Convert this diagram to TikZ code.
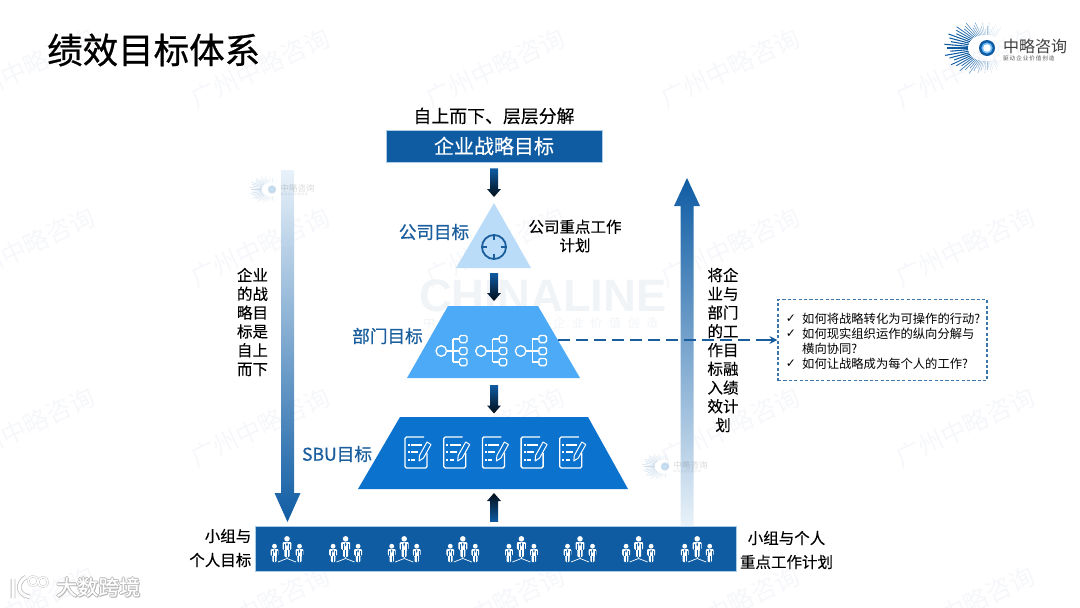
\documentclass[tikz,border=0pt]{standalone}
\usepackage{fontspec}
\setmainfont{Noto Sans CJK SC}[FakeBold=0.22]
\newfontfamily\headfont{Noto Sans CJK SC}[FakeBold=0.7]
\newfontfamily\plainfont{Noto Sans CJK SC}
\newfontfamily\symfont{DejaVu Sans}
\newfontfamily\latfont{Liberation Sans}
\usetikzlibrary{arrows.meta,calc}
\definecolor{boxblue}{HTML}{0F5CA3}
\definecolor{labelblue}{HTML}{1B5E9E}
\definecolor{sbublue}{HTML}{0B72CE}
\definecolor{deptblue}{HTML}{4CAAF6}
\definecolor{apexblue}{HTML}{BBDCF8}
\definecolor{edgeblue}{HTML}{A9CCE8}
\definecolor{markpale}{HTML}{F6F7FA}
\definecolor{linepale}{HTML}{F1F4F7}
\definecolor{fadeblue}{HTML}{E9F2FA}
\newcommand{\fs}[2]{\fontsize{#1}{#2}\selectfont}
\newcommand{\raylw}{1}
% vertical block arrow between two named points: from, to, half shaft, half head, signed head length, shade options
\newcommand{\blockarrow}[6]{%
  \path[#6] let \p1=(#1),\p2=(#2) in
    (\x1-#3pt,\y1) -- (\x1-#3pt,\y2+#5pt) -- (\x1-#4pt,\y2+#5pt) -- (\x2,\y2)
    -- (\x1+#4pt,\y2+#5pt) -- (\x1+#3pt,\y2+#5pt) -- (\x1+#3pt,\y1) -- cycle;}
\tikzset{
  x=1pt,y=-1pt,
  txt/.style={inner sep=0pt,align=center,text=black},
  goal/.style={inner sep=0pt,text=labelblue,font=\headfont\fs{17.6}{20}},
  wm/.style={text=markpale,rotate=25,inner sep=0pt,font=\plainfont\fs{25}{28}},
  smallarrow/.style={shade,top color=boxblue,bottom color=black!85!boxblue},
  uparrow/.style={shade,top color=black!85!boxblue,bottom color=boxblue},
  whiteline/.style={draw=white,line width=1.3pt,fill=none},
  person/.pic={
    \fill[white] (0,-15.8) circle (2.4);
    \fill[white,rounded corners=1pt] (-3.9,-13) -- (3.9,-13) -- (3.9,-6.5) -- (2.2,-6.5) -- (2.2,0) -- (-2.2,0) -- (-2.2,-6.5) -- (-3.9,-6.5) -- cycle;
    \draw[boxblue,line width=.35pt] (-2.3,-11) -- (-2.3,-6.5) (2.3,-11) -- (2.3,-6.5) (0,-6) -- (0,0);
    \fill[boxblue] (0,-12.8) -- (.7,-11) -- (0,-9) -- (-.7,-11) -- cycle;
  },
  peoplegroup/.pic={
    \pic[scale=1.15] at (0,-5) {person};
    \pic at (-12.5,0) {person};
    \pic at (12.5,0) {person};
    \draw[white,line width=.7pt] (-9,0) -- (0,-3.5) -- (9,0) (0,-5) -- (0,-3.5);
  },
  treeicon/.pic={
    \draw[whiteline] (-.7,0) circle (5.3);
    \draw[whiteline] (4.6,0) -- (11,0) (11,-12) -- (11,11) (11,-12) -- (17.5,-12) (11,0) -- (17.5,0) (11,11) -- (17.5,11);
    \foreach \yy in {-12,0,11} \draw[whiteline,rounded corners=1.6pt] (17.5,\yy-3.6) rectangle (25,\yy+3.6);
  },
  docicon/.pic={
    \draw[whiteline,rounded corners=1.5pt] (20,0) -- (1,0) -- (1,31) -- (23,31) -- (23,16);
    \foreach \yy/\xx in {8/18,15/14,23/11} {
      \fill[white] (3.5,\yy-1) rectangle (5.5,\yy+1);
      \draw[white,line width=1.6pt] (7,\yy) -- (\xx,\yy);
    }
    \draw[white,line width=1pt,fill=sbublue,line join=round] (15,24) -- (15.5,18.5) -- (23,5) -- (27,7.5) -- (19.5,21) -- cycle;
  },
  zlogo/.pic={
    \foreach \a [count=\i] in {55,60,...,305} {
      \pgfmathsetmacro{\rr}{22+18*max(0,cos(\a-180))^2+(mod(\i,3)==0?3:(mod(\i,3)==1?-3:0))}
      \pgfmathsetmacro{\rin}{13+6*max(0,cos(\a-180))^2}
      \pgfmathsetmacro{\mixv}{min(100,max(15,100*(1-abs(\a-180)/125)*1.25))}
      \pgfmathsetmacro{\wv}{(.35+.75*max(0,cos(\a-180))^3)*\raylw}
      \draw[color=boxblue!\mixv!white,line width=\wv pt] (\a:\rin) -- (\a:\rr);
    }
    \fill[boxblue] (0,0) circle (8);
    \fill[deptblue!80] (0,0) circle (5.6);
    \fill[white] (0,0) circle (3.8);
    \node[inner sep=0pt,anchor=west,text=black!75,font=\plainfont\fs{16}{18},transform shape] at (16,-2) {中略咨询};
    \node[inner sep=0pt,anchor=west,text=black!65,font=\plainfont\fs{5.6}{6},transform shape] at (16,10) {驱\,动\,企\,业\,价\,值\,创\,造};
  },
}
\begin{document}
\begin{tikzpicture}
\useasboundingbox (0,0) rectangle (1080,608);
% watermarks
\foreach \wx in {25,260,495,730,965}
  \foreach \wy in {68,247,427,606}
    \node[wm] (w\wx-\wy) at (\wx,\wy) {广州中略咨询};
\node[inner sep=0pt,text=linepale,font=\latfont\fs{45.5}{48}\bfseries] (chinaline) at (543,296) {CHINALINE};
\foreach \cc [count=\i from 0] in {中,略,咨,询,{},驱,动,企,业,价,值,创,造}
  \node[inner sep=0pt,text=linepale,font=\plainfont\fs{12}{14}] (cl\i) at (429+18.6*\i,323) {\cc};
% title
\node[txt,font=\headfont\fs{35.5}{38},anchor=west] (title) at (47,50) {绩效目标体系};
\pic at (987,48) {zlogo};
% top
\node[txt,font=\fs{17.9}{20}] (toplabel) at (494,116) {自上而下、层层分解};
\node[fill=boxblue,draw=edgeblue,line width=.5pt,minimum width=216pt,minimum height=32pt,inner sep=0pt,text=white,font=\fs{20}{23}] (strategy) at (494,146) {企业战略目标};
% apex
\coordinate (apextop) at (494,203);
\coordinate (apexbase) at (494,268);
\fill[apexblue] (apextop) -- (531,268) -- (456,268) -- cycle;
\node[draw=labelblue,line width=1.8pt,circle,minimum size=24pt,inner sep=0pt] (target) at (494,247) {};
\draw[labelblue,line width=1.4pt] (target.north) -- ++(0,6) (target.south) -- ++(0,-6) (target.east) -- ++(-6,0) (target.west) -- ++(6,0);
\node[goal] (lcompany) at (434,232) {公司目标};
\node[txt,font=\fs{15.5}{18.5}] (lcompwork) at (575,236) {公司重点工作\\计划};
% department
\coordinate (deptbase) at (493.5,378);
\coordinate (deptright) at (558,340);
\fill[deptblue] (448,306) -- (538,306) -- (580,378) -- (407,378) -- cycle;
\foreach \dx in {0,39.7,79.4} \pic at (442+\dx,351) {treeicon};
\node[goal] (ldept) at (387.5,336) {部门目标};
% SBU
\fill[sbublue] (400,417) -- (588,417) -- (628,489) -- (358,489) -- cycle;
\foreach \dx in {404,442.7,481.4,520.1,558.8} \pic at (\dx,437) {docicon};
\node[goal] (lsbu) at (337,454) {SBU目标};
% team bar
\node[fill=boxblue,draw=edgeblue,line width=.5pt,minimum width=481pt,minimum height=45pt,inner sep=0pt] (team) at (495.5,548.5) {};
\foreach \dx in {287,345.6,404.2,462.8,521.4,580,638.6,697.2} \pic at (\dx,562) {peoplegroup};
\node[txt,font=\fs{15.5}{24},align=right,anchor=east] (lteam) at (251.5,548) {小组与\\个人目标};
\node[txt,font=\fs{15.5}{24}] (lplan) at (786.5,550) {小组与个人\\重点工作计划};
% centre arrows
\coordinate (a1s) at ($(strategy.south)+(0,6)$);
\coordinate (a1e) at (494,197);
\blockarrow{a1s}{a1e}{4}{7}{8}{smallarrow}
\coordinate (a2s) at ($(apexbase)+(0,5)$);
\coordinate (a2e) at (494,301);
\blockarrow{a2s}{a2e}{4}{7}{8}{smallarrow}
\coordinate (a3s) at ($(deptbase)+(.5,7)$);
\coordinate (a3e) at (494,413.5);
\blockarrow{a3s}{a3e}{4}{7}{8}{smallarrow}
\coordinate (a4s) at ($(team.north)+(-1.5,-4)$);
\coordinate (a4e) at (494,493);
\blockarrow{a4s}{a4e}{4}{7}{-8}{uparrow}
% long arrows
\coordinate (lls) at (287.5,170);
\coordinate (lle) at (287.5,522);
\blockarrow{lls}{lle}{6.5}{13}{29}{shade,top color=fadeblue,bottom color=boxblue}
\coordinate (rrs) at (687,526);
\coordinate (rre) at (687,178);
\blockarrow{rrs}{rre}{6.5}{13}{-28}{shade,top color=boxblue,bottom color=fadeblue}
\node[txt,font=\fs{15.5}{18.8}] (lleft) at (252.5,322) {企业\\的战\\略目\\标是\\自上\\而下};
\node[txt,font=\fs{15.5}{18.75}] (lright) at (723,350) {将企\\业与\\部门\\的工\\作目\\标融\\入绩\\效计\\划};
% question box
\node[draw=labelblue!85!white,line width=1.2pt,dash pattern=on 3.2pt off 2.2pt,minimum width=209pt,minimum height=81pt,inner sep=0pt] (qbox) at (882.5,340) {};
\draw[labelblue,line width=1.7pt,dash pattern=on 12pt off 6pt] (deptright) -- ($(qbox.west)+(-4,0)$);
\draw[labelblue,line width=1.3pt,-{Stealth[length=8pt,width=8pt]}] ($(qbox.west)+(-10,0)$) -- (qbox.west);
\foreach \yy/\qt [count=\i] in {319/如何将战略转化为可操作的行动?,334/如何现实组织运作的纵向分解与,349/横向协同?,363.5/如何让战略成为每个人的工作?}
  \node[txt,anchor=west,font=\plainfont\fs{12.3}{14}] (q\i) at (802,\yy) {\qt};
\foreach \yy [count=\i] in {319,334,363.5}
  \node[txt,font=\symfont\fs{12}{14}] (ck\i) at (791,\yy) {✓};
% small faded logos
\begin{scope}[opacity=.2]
  \renewcommand{\raylw}{.5}
  \pic[scale=.53] at (272,189.5) {zlogo};
  \pic[scale=.53] at (665,466.5) {zlogo};
\end{scope}
% bottom-left mark
\foreach \ox/\oy in {-.9/0,.9/0,0/-.9,0/.9,1/1}
  \node[inner sep=0pt,text=black!28,font=\fs{21}{23},anchor=west] at (56+\ox,587+\oy) {大数跨境};
\node[inner sep=0pt,text=white,font=\fs{21}{23},anchor=west] (dk) at (56,587) {大数跨境};
\foreach \col/\lw in {black!25/4.6,white/3}{
  \draw[\col,line width=\lw pt] (13,579) -- (13,598) (26,577) .. controls (16,583) and (17,595) .. (30,597);
  \draw[\col,line width=\lw pt*.5] (33,581) circle (4.8) (43,582) circle (4.8);
}
\end{tikzpicture}
\end{document}
